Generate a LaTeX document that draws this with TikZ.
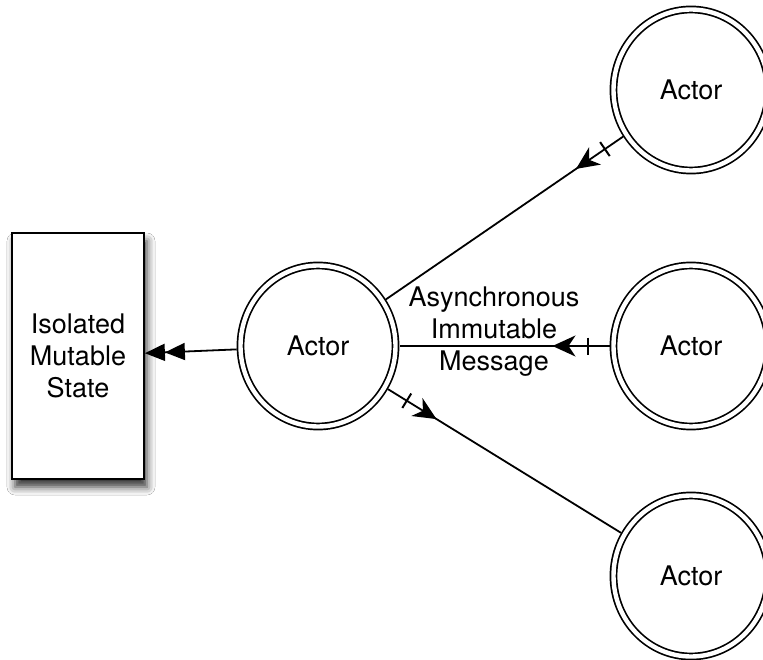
\documentclass[tikz,border=0pt]{standalone}
\usepackage{fontspec}
\setmainfont{TeX Gyre Heros}
\usetikzlibrary{arrows.meta,shapes.geometric,decorations.markings,shadows.blur}
\begin{document}
\begin{tikzpicture}[x=1pt,y=-1pt,
  lbl/.style={font=\fontsize{27pt}{32pt}\selectfont},
  actor/.style={ellipse, draw, line width=1.7pt, double, double distance=4.4pt,
    minimum width=155pt, minimum height=161pt, inner sep=0pt, outer sep=4pt, lbl},
  statebox/.style={draw, line width=1.8pt, fill=white, minimum width=132pt,
    minimum height=246pt, inner sep=0pt, align=center, lbl,
    blur shadow={shadow xshift=3pt, shadow yshift=-8pt, shadow blur radius=8pt, shadow opacity=80}},
  msg/.style={line width=1.8pt, postaction={decorate},
    decoration={markings,
      mark=at position 22pt with {\draw[line width=2pt] (0pt,-8.5pt) -- (0pt,8.5pt);},
      mark=at position 57pt with {\arrow{Stealth[length=23pt,width=21pt,inset=7pt]}}}},
  stateline/.style={line width=1.8pt,
    -{Triangle[length=20pt,width=17pt,sep=0pt]Triangle[length=20pt,width=17pt]}}
  ]
\useasboundingbox (0,0) rectangle (763,660);
\clip (0,0) rectangle (763,660);
\fill[white] (0,0) rectangle (763,660);
\node[statebox] (S) at (78,356) {Isolated\\Mutable\\State};
\node[actor] (C) at (318,346) {Actor};
\node[actor] (A1) at (691,90) {Actor};
\node[actor] (A2) at (691,346) {Actor};
\node[actor] (A3) at (691,576) {Actor};
\draw[stateline] (C) -- (S);
\draw[msg] (A1) -- (C);
\draw[msg] (A2) -- node[pos=0.55, yshift=14pt, align=center, lbl] {Asynchronous\\Immutable\\Message} (C);
\draw[msg] (C) -- (A3);
\end{tikzpicture}
\end{document}
